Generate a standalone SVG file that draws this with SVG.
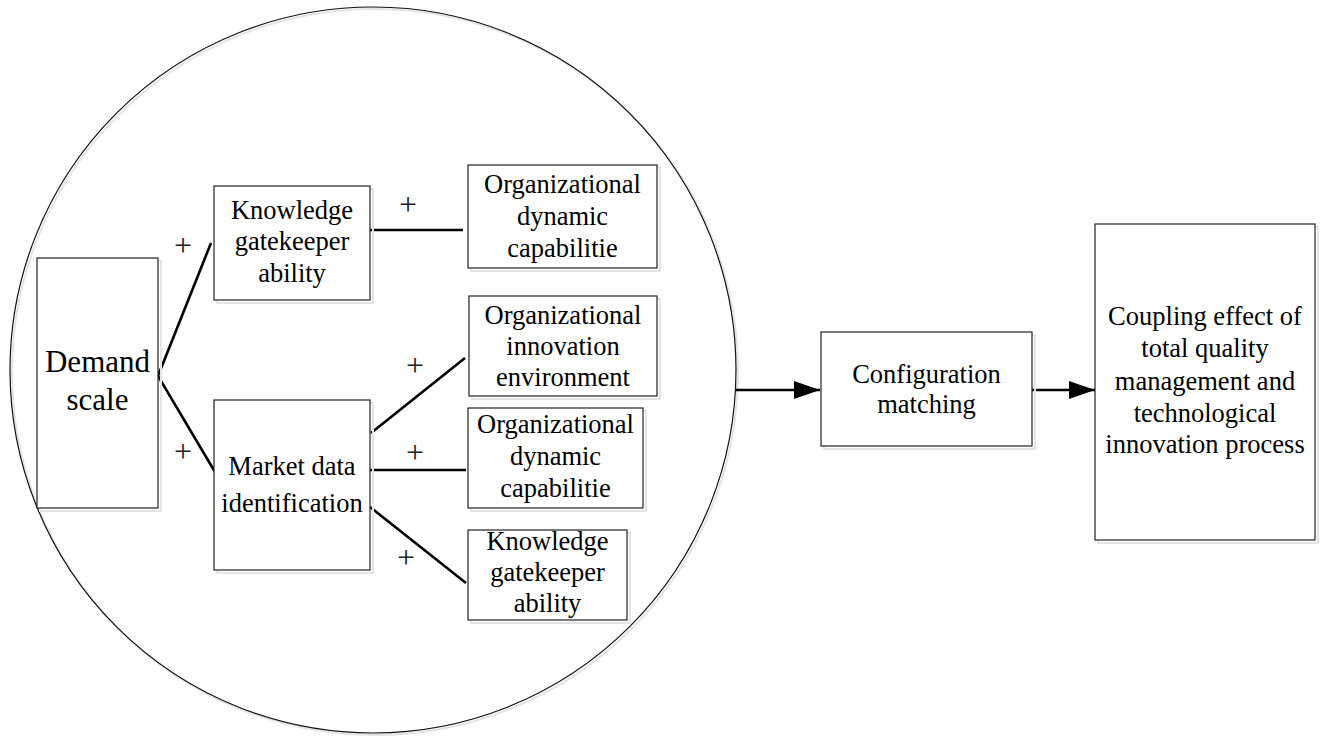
<svg xmlns="http://www.w3.org/2000/svg" width="1323" height="736" viewBox="0 0 1323 736">
<style>
.box{fill:#fff;stroke:#222;stroke-width:1.2}
.sh{fill:none;stroke:#e4e4e4;stroke-width:2}
.t{font-size:26.5px;fill:#000;text-anchor:middle}
.big{font-size:31px}
.plus{font-size:32px;fill:#222;text-anchor:middle}
.c{stroke:#000;stroke-width:2.6;fill:none}
</style>
<defs>
<marker id="arr" viewBox="0 0 26 18" refX="26" refY="9" markerWidth="26" markerHeight="18" markerUnits="userSpaceOnUse" orient="auto">
<path d="M0,0 L26,9 L0,18 Z" fill="#000"/>
</marker>
</defs>
<rect width="1323" height="736" fill="#fff"/>
<g id="boundary">
<ellipse cx="375" cy="372" rx="363" ry="363" class="sh"/>
<ellipse cx="373" cy="370" rx="363" ry="363" fill="none" stroke="#111" stroke-width="1.2"/>
</g>
<g id="connectors">
<polyline class="c" points="211,243 158,376 215,472"/>
<line class="c" x1="369" y1="230" x2="463" y2="230"/>
<line class="c" x1="371" y1="433" x2="465" y2="358"/>
<line class="c" x1="370" y1="470" x2="466" y2="470"/>
<line class="c" x1="370" y1="507" x2="466" y2="583"/>
<line class="c" x1="736" y1="390" x2="820" y2="390" marker-end="url(#arr)"/>
<line class="c" x1="1032" y1="390" x2="1095" y2="390" marker-end="url(#arr)"/>
</g>
<g font-family="Liberation Serif, Times New Roman, serif">
<g id="signs">
<text class="plus" x="183" y="256">+</text>
<text class="plus" x="183" y="462">+</text>
<text class="plus" x="408" y="215">+</text>
<text class="plus" x="415" y="376">+</text>
<text class="plus" x="415" y="463">+</text>
<text class="plus" x="406" y="568">+</text>
</g>
<g id="demand-scale">
<rect class="sh" x="40" y="261" width="121" height="250"/>
<rect class="box" x="37" y="258" width="121" height="250"/>
<text class="t big" x="97.5" y="372">Demand</text>
<text class="t big" x="97.5" y="410">scale</text>
</g>
<g id="knowledge-gatekeeper-1">
<rect class="sh" x="217" y="189" width="156" height="114"/>
<rect class="box" x="214" y="186" width="156" height="114"/>
<text class="t" x="292" y="219">Knowledge</text>
<text class="t" x="292" y="250">gatekeeper</text>
<text class="t" x="292" y="282">ability</text>
</g>
<g id="market-data">
<rect class="sh" x="217" y="403" width="156" height="170"/>
<rect class="box" x="214" y="400" width="156" height="170"/>
<text class="t" x="292" y="475">Market data</text>
<text class="t" x="292" y="512">identification</text>
</g>
<g id="org-dynamic-1">
<rect class="sh" x="471" y="168" width="189" height="103"/>
<rect class="box" x="468" y="165" width="189" height="103"/>
<text class="t" x="562.5" y="193">Organizational</text>
<text class="t" x="562.5" y="225">dynamic</text>
<text class="t" x="562.5" y="257">capabilitie</text>
</g>
<g id="org-innovation">
<rect class="sh" x="472" y="299" width="188" height="100"/>
<rect class="box" x="469" y="296" width="188" height="100"/>
<text class="t" x="563" y="324">Organizational</text>
<text class="t" x="563" y="355">innovation</text>
<text class="t" x="563" y="386">environment</text>
</g>
<g id="org-dynamic-2">
<rect class="sh" x="471" y="411" width="175" height="100"/>
<rect class="box" x="468" y="408" width="175" height="100"/>
<text class="t" x="555.5" y="433">Organizational</text>
<text class="t" x="555.5" y="465">dynamic</text>
<text class="t" x="555.5" y="497">capabilitie</text>
</g>
<g id="knowledge-gatekeeper-2">
<rect class="sh" x="471" y="533" width="159" height="90"/>
<rect class="box" x="468" y="530" width="159" height="90"/>
<text class="t" x="547.5" y="550">Knowledge</text>
<text class="t" x="547.5" y="581">gatekeeper</text>
<text class="t" x="547.5" y="612">ability</text>
</g>
<g id="configuration-matching">
<rect class="sh" x="824" y="335" width="211" height="114"/>
<rect class="box" x="821" y="332" width="211" height="114"/>
<text class="t" x="926.5" y="383">Configuration</text>
<text class="t" x="926.5" y="413">matching</text>
</g>
<g id="coupling-effect">
<rect class="sh" x="1098" y="227" width="220" height="316"/>
<rect class="box" x="1095" y="224" width="220" height="316"/>
<text class="t" x="1205" y="325">Coupling effect of</text>
<text class="t" x="1205" y="357">total quality</text>
<text class="t" x="1205" y="390">management and</text>
<text class="t" x="1205" y="422">technological</text>
<text class="t" x="1205" y="453">innovation process</text>
</g>
</g>
</svg>
